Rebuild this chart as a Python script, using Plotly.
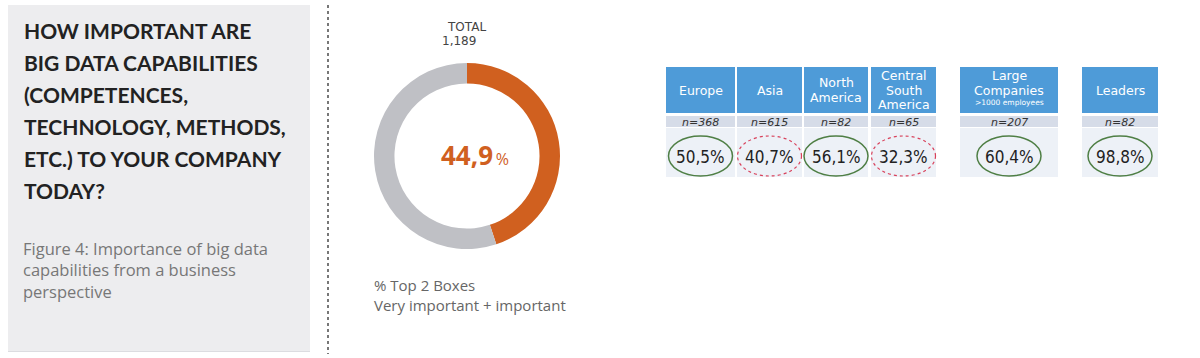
import plotly.graph_objects as go

# ---------------- data ----------------
total_n = "1,189"
total_pct = 44.9
categories = ["Europe", "Asia", "North\nAmerica", "Central\nSouth\nAmerica",
              "Large\nCompanies", "Leaders"]
sub_labels = ["", "", "", "", ">1000 employees", ""]
sample_n = [368, 615, 82, 65, 207, 82]
values = [50.5, 40.7, 56.1, 32.3, 60.4, 98.8]

title_lines = ["HOW IMPORTANT ARE", "BIG DATA CAPABILITIES", "(COMPETENCES,",
               "TECHNOLOGY, METHODS,", "ETC.) TO YOUR COMPANY", "TODAY?"]
subtitle_lines = ["Figure 4: Importance of big data",
                  "capabilities from a business", "perspective"]
note_lines = ["% Top 2 Boxes", "Very important + important"]

# ---------------- layout constants ----------------
W, H = 1200, 358
col_x0 = [666, 737, 804, 871, 960, 1082]
col_x1 = [735, 802, 868, 936, 1058, 1158]
HEAD_Y0, HEAD_Y1 = 67, 113
N_Y0, N_Y1 = 116, 127
V_Y0, V_Y1 = 128, 177

BLUE = "#4e9bd8"
ORANGE = "#d0601f"
GREY = "#bfc0c5"

fig = go.Figure()

# donut
cx, cy, r = 467, 156, 93
fig.add_trace(go.Pie(
    values=[total_pct, 100 - total_pct],
    hole=0.78, sort=False, direction="clockwise", rotation=0,
    marker=dict(colors=[ORANGE, GREY], line=dict(width=0)),
    textinfo="none", hoverinfo="skip", showlegend=False,
    domain=dict(x=[(cx - r) / W, (cx + r) / W], y=[1 - (cy + r) / H, 1 - (cy - r) / H]),
))

shapes = []
ann = []

# left panel
shapes.append(dict(type="rect", xref="x", yref="y", x0=8, x1=310, y0=5, y1=352,
                   fillcolor="#ededef", line=dict(width=0), layer="below"))
shapes.append(dict(type="line", xref="x", yref="y", x0=8, x1=310, y0=351.5, y1=351.5,
                   line=dict(color="#dcdce0", width=1)))
# dotted separator
shapes.append(dict(type="line", xref="x", yref="y", x0=328, x1=328, y0=5, y1=354,
                   line=dict(color="#777777", width=2, dash="dot")))

for i, line in enumerate(title_lines):
    ann.append(dict(x=22, y=30 + 32 * i, text=line, xanchor="left", yanchor="middle",
                    font=dict(family="Lato", size=21, color="#222222", weight="bold")))
ann.append(dict(x=21, y=270, text="<br>".join(subtitle_lines), xanchor="left",
                yanchor="middle", align="left",
                font=dict(family="Open Sans", size=16.5, color="#777777")))

# donut labels
ann.append(dict(x=466, y=27, text="TOTAL", xanchor="center", yanchor="middle",
                font=dict(family="DejaVu Sans", size=12, color="#444444")))
ann.append(dict(x=459, y=41, text=total_n, xanchor="center", yanchor="middle",
                font=dict(family="DejaVu Sans", size=12, color="#444444")))
pct_txt = f"{total_pct:.1f}".replace(".", ",")
ann.append(dict(x=475, y=155, text=f"<b>{pct_txt}</b><span style='font-size:16px'>\u2009%</span>",
                xanchor="center", yanchor="middle",
                font=dict(family="Open Sans", size=26, color=ORANGE)))
ann.append(dict(x=372, y=294.5, text="<br>".join(note_lines), xanchor="left",
                yanchor="middle", align="left",
                font=dict(family="Open Sans", size=15, color="#666666")))

# table
for i, cat in enumerate(categories):
    x0, x1 = col_x0[i], col_x1[i]
    xc = (x0 + x1) / 2
    shapes.append(dict(type="rect", xref="x", yref="y", x0=x0, x1=x1, y0=HEAD_Y0, y1=HEAD_Y1,
                       fillcolor=BLUE, line=dict(width=0), layer="below"))
    shapes.append(dict(type="rect", xref="x", yref="y", x0=x0, x1=x1, y0=N_Y0, y1=N_Y1,
                       fillcolor="#d6dce8", line=dict(width=0), layer="below"))
    shapes.append(dict(type="rect", xref="x", yref="y", x0=x0, x1=x1, y0=V_Y0, y1=V_Y1,
                       fillcolor="#edf1f7", line=dict(width=0), layer="below"))
    lines = cat.split("\n")
    extra = [sub_labels[i]] if sub_labels[i] else []
    n_lines = len(lines) + len(extra)
    step = 14.5
    hc = (HEAD_Y0 + HEAD_Y1) / 2
    start = hc - step * (n_lines - 1) / 2
    for j, ln in enumerate(lines):
        ann.append(dict(x=xc, y=start + step * j, text=ln, xanchor="center", yanchor="middle",
                        font=dict(family="DejaVu Sans", size=12.5, color="white")))
    for k, ln in enumerate(extra):
        ann.append(dict(x=xc, y=start + step * (len(lines) + k) - 2, text=ln.replace(">", "&gt;"),
                        xanchor="center", yanchor="middle",
                        font=dict(family="DejaVu Sans", size=7.5, color="white")))
    ann.append(dict(x=xc, y=(N_Y0 + N_Y1) / 2 + 0.5, text=f"<i>n={sample_n[i]}</i>",
                    xanchor="center", yanchor="middle",
                    font=dict(family="DejaVu Sans", size=11, color="#333333")))
    vtxt = f"{values[i]:.1f}".replace(".", ",") + "%"
    ann.append(dict(x=xc, y=156.5, text=vtxt, xanchor="center", yanchor="middle",
                    font=dict(family="DejaVu Sans Condensed, DejaVu Sans", size=17,
                              color="#222222")))
    above = values[i] > total_pct
    shapes.append(dict(type="circle", xref="x", yref="y", x0=xc - 32, x1=xc + 32, y0=136, y1=176,
                       line=dict(color="#4f7f45" if above else "#d8405a",
                                 width=1.5 if above else 1.2,
                                 dash="solid" if above else "dot")))

for a in ann:
    a.update(xref="x", yref="y", showarrow=False)

fig.update_layout(
    width=W, height=H, margin=dict(l=0, r=0, t=0, b=0),
    paper_bgcolor="white", plot_bgcolor="white",
    xaxis=dict(range=[0, W], visible=False, fixedrange=True),
    yaxis=dict(range=[H, 0], visible=False, fixedrange=True),
    shapes=shapes, annotations=ann, showlegend=False,
)

fig.write_html("out.html", config={"displayModeBar": False},
               post_script="document.body.style.margin='0px';")
